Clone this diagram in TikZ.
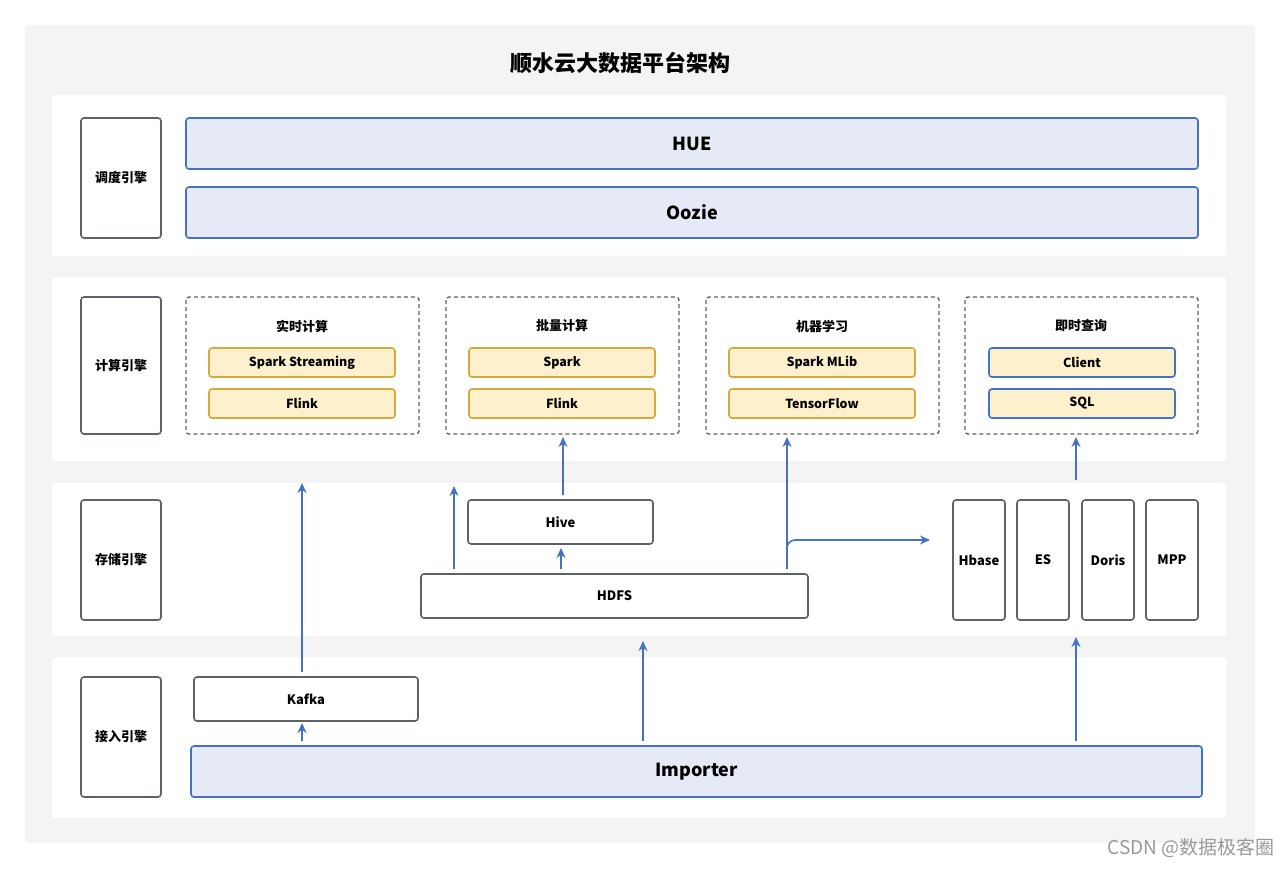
\documentclass[tikz,border=0pt]{standalone}
\usepackage{fontspec}
\setmainfont{Noto Sans CJK SC}
\usetikzlibrary{arrows.meta}
\definecolor{bgGray}{HTML}{F4F4F4}
\definecolor{lineBlue}{HTML}{4472C4}
\definecolor{fillBlue}{HTML}{E6EAF6}
\definecolor{lineGold}{HTML}{D4AA3C}
\definecolor{fillGold}{HTML}{FDF0CC}
\definecolor{boxGray}{HTML}{5F6368}
\tikzset{
  tag/.style={draw=boxGray,line width=1.6pt,rounded corners=3pt,fill=white,font=\bfseries\fontsize{13}{15}\selectfont},
  bar/.style={draw=lineBlue,line width=1.6pt,rounded corners=3pt,fill=fillBlue,font=\bfseries\fontsize{18}{20}\selectfont},
  group/.style={draw=boxGray,line width=1.4pt,dash pattern=on 4pt off 3pt,rounded corners=3pt},
  item/.style={draw=lineGold,line width=1.6pt,rounded corners=3pt,fill=fillGold,font=\bfseries\fontsize{12.5}{14}\selectfont},
  qitem/.style={item,draw=lineBlue},
  flow/.style={draw=lineBlue,line width=1.6pt,-{Stealth[length=10pt,width=9pt]}}
}
\begin{document}
\begin{tikzpicture}[x=1pt,y=-1pt]
  \useasboundingbox (0,0) rectangle (1280,868);
  \fill[bgGray,rounded corners=4pt] (25,25) rectangle (1255,843);
  \node[font=\bfseries\fontsize{22}{26}\selectfont] (title) at (620,63) {顺水云大数据平台架构};
  % panels
  \fill[white,rounded corners=3pt] (52,95) rectangle (1226,256);
  \fill[white,rounded corners=3pt] (52,277) rectangle (1226,461);
  \fill[white,rounded corners=3pt] (52,483) rectangle (1226,636);
  \fill[white,rounded corners=3pt] (52,657) rectangle (1226,818);
  % row labels
  \foreach \ya/\yb/\txt in {118/238/调度引擎,297/434/计算引擎,500/620/存储引擎,677/797/接入引擎}
    \draw[tag] (81,\ya) rectangle (161,\yb) node[midway] {\txt};
  % scheduling
  \draw[bar] (186,118) rectangle (1198,169) node[midway] (hue) {HUE};
  \draw[bar] (186,187) rectangle (1198,238) node[midway] (oozie) {Oozie};
  % compute groups
  \foreach \xa/\txt/\one/\two in {186/实时计算/Spark Streaming/Flink,446/批量计算/Spark/Flink,706/机器学习/Spark MLib/TensorFlow}{
    \draw[group] (\xa,297) rectangle ++(233,137);
    \node[font=\bfseries\fontsize{13}{15}\selectfont] at (\xa+116,326) {\txt};
    \draw[item] (\xa+23,348) rectangle ++(186,29) node[midway] {\one};
    \draw[item] (\xa+23,389) rectangle ++(186,29) node[midway] {\two};
  }
  \draw[group] (965,297) rectangle (1198,434);
  \node[font=\bfseries\fontsize{13}{15}\selectfont] at (1081,326) {即时查询};
  \draw[qitem] (989,348) rectangle (1175,377) node[midway] {Client};
  \draw[qitem] (989,389) rectangle (1175,418) node[midway] {SQL};
  % storage
  \node[tag,minimum width=185pt,minimum height=44pt] (hive) at (560.5,522) {Hive};
  \node[tag,minimum width=387pt,minimum height=44pt] (hdfs) at (614.5,596) {HDFS};
  \foreach \x/\txt in {979/Hbase,1043/ES,1108/Doris,1172/MPP}
    \node[tag,minimum width=52pt,minimum height=120pt] (\txt) at (\x,560) {\txt};
  % ingestion
  \node[tag,minimum width=224pt,minimum height=44pt] (kafka) at (306,699) {Kafka};
  \node[bar,minimum width=1011pt,minimum height=51pt] (importer) at (696.5,771.5) {Importer};
  % connectors
  \coordinate (rtEnd) at (302,483);
  \coordinate (hdfsUp) at (454,486);
  \coordinate (mlEnd) at (787,437);
  \coordinate (dbEnd) at (930,540);
  \coordinate (qEnd) at (1076,437);
  \coordinate (stEnd) at (1076,637);
  \coordinate (hdfsIn) at (643,641);
  \draw[flow] (302,741) -- (302,723);
  \draw[flow] (302,672) -- (rtEnd);
  \draw[flow] (643,741) -- (hdfsIn);
  \draw[flow] (1076,741) -- (stEnd);
  \draw[flow] (561,569) -- (561,548);
  \draw[flow] (454,569) -- (hdfsUp);
  \draw[flow] (563,495) -- (563,437);
  \draw[flow] (787,569) -- (mlEnd);
  \draw[flow,rounded corners=8pt] (787,552) -- (787,540) -- (dbEnd);
  \draw[flow] (1076,480) -- (qEnd);
  \node[text=gray!80,font=\fontsize{19}{22}\selectfont,anchor=east] (mark) at (1278,848) {CSDN @数据极客圈};
\end{tikzpicture}
\end{document}
